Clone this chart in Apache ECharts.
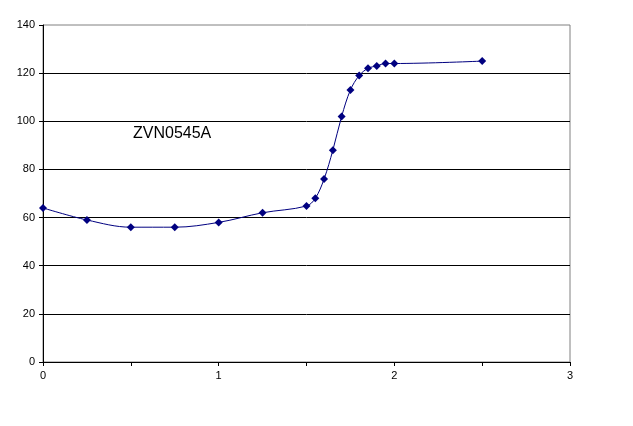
<!DOCTYPE html>
<html><head><meta charset="utf-8">
<script src="https://cdn.jsdelivr.net/npm/echarts@6/dist/echarts.min.js"></script>
<style>html,body{margin:0;padding:0;background:#fff}#c{width:633px;height:426px}</style>
</head><body><div id="c"></div>
<script>
const xValues = [0, 0.25, 0.5, 0.75, 1.0, 1.25, 1.5, 1.55, 1.6, 1.65, 1.7, 1.75, 1.8, 1.85, 1.9, 1.95, 2.0, 2.5];
const yValues = [64, 59, 56, 56, 58, 62, 64.8, 68, 76, 88, 102, 113, 119, 122, 123, 124, 124, 125];
const seriesName = 'ZVN0545A';

const chart = echarts.init(document.getElementById('c'), null, {renderer: 'canvas'});
const font = 'Arial, "Liberation Sans", sans-serif';
chart.setOption({
  animation: false,
  backgroundColor: '#fff',
  grid: {left: 43, right: 63, top: 25, bottom: 64, show: true, borderColor: '#808080', borderWidth: 1},
  xAxis: {
    type: 'value', min: 0, max: 3, interval: 0.5,
    axisLine: {show: true, lineStyle: {color: '#000', width: 1}},
    axisTick: {show: true, length: 4, inside: false, lineStyle: {color: '#000'}},
    axisLabel: {margin: 8, color: '#000', fontFamily: font, fontSize: 11,
      formatter: v => (Math.abs(v - Math.round(v)) < 1e-9 ? String(Math.round(v)) : '')},
    splitLine: {show: false}
  },
  yAxis: {
    type: 'value', min: 0, max: 140, interval: 20,
    axisLine: {show: true, lineStyle: {color: '#000', width: 1}},
    axisTick: {show: true, length: 4, lineStyle: {color: '#000'}},
    axisLabel: {margin: 8, color: '#000', fontFamily: font, fontSize: 11},
    splitLine: {show: true, showMaxLine: false, lineStyle: {color: '#000', width: 1}}
  },
  series: [{
    name: seriesName,
    type: 'line',
    data: xValues.map((x, i) => [x, yValues[i]]),
    smooth: 0.35,
    symbol: 'diamond',
    symbolSize: 8,
    lineStyle: {color: '#000080', width: 1},
    itemStyle: {color: '#000080'}
  }],
  graphic: [{
    type: 'text', left: 133, top: 126,
    style: {text: seriesName, fill: '#000', font: '16px ' + font}
  }]
});
</script></body></html>
